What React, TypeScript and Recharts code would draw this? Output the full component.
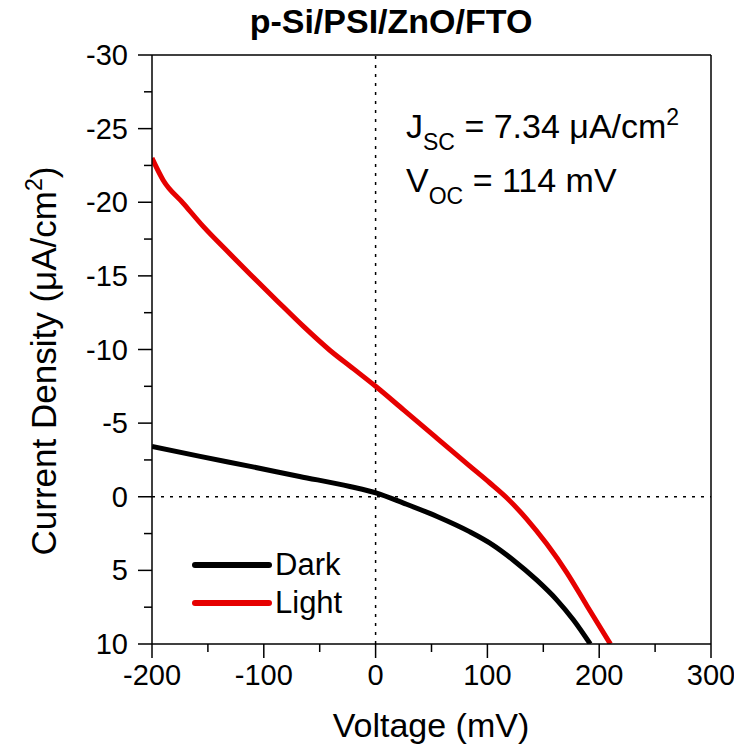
import { LineChart, Line, XAxis, YAxis, ReferenceLine, Legend } from "recharts";

const darkVoltage = [-200, -157, -112, -68, -23, 1, 25, 55, 84, 105, 123, 144, 162, 177, 192];
const darkCurrent = [-3.42, -2.74, -2.06, -1.38, -0.7, -0.25, 0.43, 1.34, 2.37, 3.28, 4.29, 5.65, 7.0, 8.37, 10];

const lightVoltage = [-200, -190, -172, -154, -133, -112, -88, -65, -41, -20, 0, 25, 55, 84, 102, 117, 135, 153, 171, 189, 210];
const lightCurrent = [-23.0, -21.5, -19.93, -18.34, -16.7, -15.1, -13.3, -11.6, -9.95, -8.7, -7.5, -5.9, -3.97, -2.1, -0.95, 0.05, 1.5, 3.2, 5.15, 7.4, 10];

const xTicks = [-200, -150, -100, -50, 0, 50, 100, 150, 200, 250, 300];
const yTicks = [-30, -27.5, -25, -22.5, -20, -17.5, -15, -12.5, -10, -7.5, -5, -2.5, 0, 2.5, 5, 7.5, 10];

const darkData = darkVoltage.map((v, i) => ({ v, j: darkCurrent[i] }));
const lightData = lightVoltage.map((v, i) => ({ v, j: lightCurrent[i] }));

const FONT = "'Liberation Sans', Arial, sans-serif";

function XTick(props: any) {
  const { x, y, payload } = props;
  const major = payload.value % 100 === 0;
  return (
    <g>
      <line x1={x} y1={y} x2={x} y2={y + (major ? 14 : 8)} stroke="#000" strokeWidth={1.5} />
      {major && (
        <text x={x} y={y + 41} textAnchor="middle" fontSize={29} fontFamily={FONT} fill="#000">
          {payload.value}
        </text>
      )}
    </g>
  );
}

function YTick(props: any) {
  const { x, y, payload } = props;
  const major = payload.value % 5 === 0;
  return (
    <g>
      <line x1={x} y1={y} x2={x - (major ? 14 : 8)} y2={y} stroke="#000" strokeWidth={1.5} />
      {major && (
        <text x={x - 24} y={y + 10} textAnchor="end" fontSize={29} fontFamily={FONT} fill="#000">
          {payload.value}
        </text>
      )}
    </g>
  );
}

function LegendBox(props: any) {
  const items = props.payload || [];
  return (
    <div>
      {items.map((it: any) => (
        <div key={it.value} style={{ display: "flex", alignItems: "center", height: 38 }}>
          <svg width={83} height={12}>
            <line x1={3} y1={6} x2={77} y2={6} stroke={it.color} strokeWidth={6} strokeLinecap="round" />
          </svg>
          <span style={{ fontFamily: FONT, fontSize: 31, color: "#000", lineHeight: "38px" }}>{it.value}</span>
        </div>
      ))}
    </div>
  );
}

export default function App() {
  return (
    <div style={{ position: "absolute", left: 0, top: 0, width: 734, height: 755, background: "#fff" }}>
      <LineChart width={734} height={755} margin={{ top: 55, right: 23, bottom: 81, left: 92 }}>
        <XAxis
          type="number"
          dataKey="v"
          domain={[-200, 300]}
          ticks={xTicks}
          interval={0}
          height={30}
          tickSize={0}
          tickMargin={0}
          tickLine={false}
          tick={<XTick />}
          axisLine={{ stroke: "#000", strokeWidth: 1.5 }}
          allowDataOverflow
        />
        <YAxis
          type="number"
          dataKey="j"
          domain={[-30, 10]}
          reversed
          ticks={yTicks}
          interval={0}
          width={60}
          tickSize={0}
          tickMargin={0}
          tickLine={false}
          tick={<YTick />}
          axisLine={{ stroke: "#000", strokeWidth: 1.5 }}
          allowDataOverflow
        />
        <ReferenceLine y={-30} stroke="#000" strokeWidth={1.5} />
        <ReferenceLine x={300} stroke="#000" strokeWidth={1.5} />
        <ReferenceLine x={0} stroke="#000" strokeWidth={1.5} strokeDasharray="3 6" />
        <ReferenceLine y={0} stroke="#000" strokeWidth={1.5} strokeDasharray="3 6" />
        <Line
          data={darkData}
          dataKey="j"
          name="Dark"
          type="monotone"
          stroke="#000000"
          strokeWidth={5}
          dot={false}
          isAnimationActive={false}
        />
        <Line
          data={lightData}
          dataKey="j"
          name="Light"
          type="monotone"
          stroke="#e60000"
          strokeWidth={5}
          dot={false}
          isAnimationActive={false}
        />
        <Legend
          layout="vertical"
          align="center"
          verticalAlign="middle"
          content={<LegendBox />}
          wrapperStyle={{ left: 192, top: 546, width: 200, height: 80 }}
        />
      </LineChart>
      <svg
        width={734}
        height={755}
        style={{ position: "absolute", left: 0, top: 0, pointerEvents: "none" }}
        fontFamily={FONT}
      >
        <text x={391} y={33} textAnchor="middle" fontSize={34} fontWeight="bold" fill="#000">
          p-Si/PSI/ZnO/FTO
        </text>
        <text transform="translate(56,361) rotate(-90)" textAnchor="middle" fontSize={35} fill="#000">
          Current Density (μA/cm<tspan fontSize={23} dy={-14}>2</tspan>
          <tspan dy={14}>)</tspan>
        </text>
        <text x={431} y={737} textAnchor="middle" fontSize={34} fill="#000">
          Voltage (mV)
        </text>
        <text x={406} y={138} fontSize={34} fill="#000">
          J<tspan fontSize={23} dy={12}>SC</tspan>
          <tspan dy={-12}> = 7.34 μA/cm</tspan>
          <tspan fontSize={23} dy={-13}>2</tspan>
        </text>
        <text x={406} y={192} fontSize={34} fill="#000">
          V<tspan fontSize={23} dy={12}>OC</tspan>
          <tspan dy={-12}> = 114 mV</tspan>
        </text>
      </svg>
    </div>
  );
}
